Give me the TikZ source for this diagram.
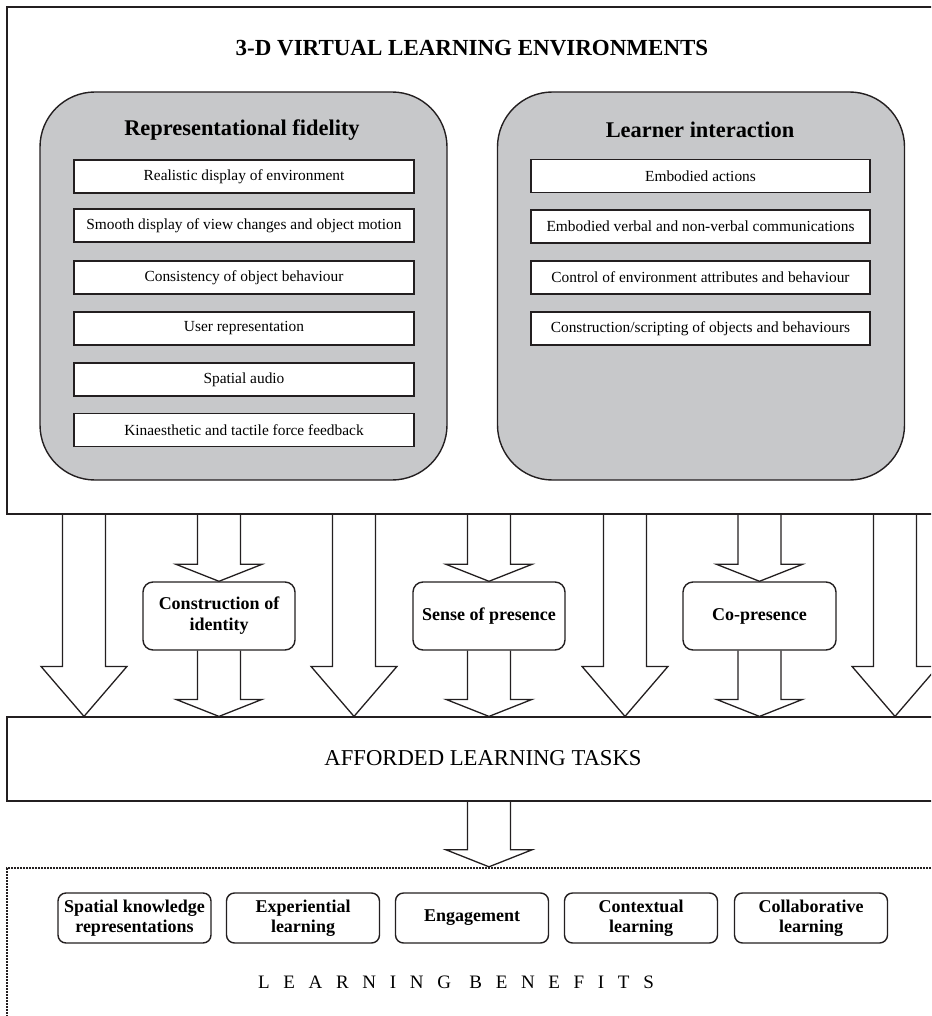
\documentclass[tikz,border=0pt]{standalone}
\usepackage{fontspec}
\setmainfont{Liberation Serif}
\newfontfamily\spacedfont[LetterSpace=72]{Liberation Serif}
\usetikzlibrary{fit,calc}

\definecolor{panelgray}{RGB}{199,200,202}
\definecolor{ink}{RGB}{35,31,32}

% block arrow: start, end, head length
\newcommand{\fatarrow}[3]{%
  \draw[arrowline] let \p1=(#1), \p2=(#2) in
    (\x1-21.5pt,\y1) -- (\x1-21.5pt,\y2+#3pt) -- (\x1-43pt,\y2+#3pt) -- (\x1,\y2)
    -- (\x1+43pt,\y2+#3pt) -- (\x1+21.5pt,\y2+#3pt) -- (\x1+21.5pt,\y1);}

\begin{document}
\begin{tikzpicture}[x=1pt,y=-1pt,
    outerbox/.style={draw=ink,line width=1.2pt,inner sep=0pt},
    panel/.style={draw=ink,fill=panelgray,line width=1.4pt,rounded corners=55pt,
      minimum width=407pt,minimum height=388pt},
    paneltitle/.style={font=\fontsize{22.4}{26}\selectfont\bfseries},
    item/.style={draw=ink,fill=white,line width=1.8pt,minimum width=340pt,minimum height=33pt,
      inner sep=0pt,font=\fontsize{15.4}{18}\selectfont},
    midbox/.style={draw=ink,fill=white,line width=1.4pt,rounded corners=10pt,minimum width=152pt,
      minimum height=68pt,inner sep=0pt,align=center,font=\fontsize{18}{21}\selectfont\bfseries},
    benefit/.style={draw=ink,fill=white,line width=1.4pt,rounded corners=8pt,minimum width=153pt,
      minimum height=50pt,inner sep=0pt,align=center,font=\fontsize{18}{20}\selectfont\bfseries},
    arrowline/.style={draw=ink,line width=1.3pt,line join=miter}]
  \useasboundingbox (0,0) rectangle (931,1016);
  \clip (0,0) rectangle (931,1016);

  % Environment box
  \node[outerbox,minimum width=933pt,minimum height=507pt] (env) at (473.5,260.5) {};
  \node[font=\fontsize{23}{27}\selectfont\bfseries] (envtitle) at (472,48) {3-D VIRTUAL LEARNING ENVIRONMENTS};

  % Panels
  \node[panel] (fidelity) at (243.5,286) {};
  \node[panel] (interaction) at (701,286) {};
  \node[paneltitle] (fidtitle) at (242,130) {Representational fidelity};
  \node[paneltitle] (inttitle) at (700,130) {Learner interaction};

  % Fidelity items
  \node[item] (f1) at (244,176.5) {Realistic display of environment};
  \node[item] (f2) at (244,225.5) {Smooth display of view changes and object motion};
  \node[item] (f3) at (244,277.5) {Consistency of object behaviour};
  \node[item] (f4) at (244,328.5) {User representation};
  \node[item] (f5) at (244,379.5) {Spatial audio};
  \node[item] (f6) at (244,430) {Kinaesthetic and tactile force feedback};

  % Interaction items
  \node[item,minimum width=339pt] (i1) at (700.5,176) {Embodied actions};
  \node[item,minimum width=339pt] (i2) at (700.5,226.5) {Embodied verbal and non-verbal communications};
  \node[item,minimum width=339pt] (i3) at (700.5,277.5) {Control of environment attributes and behaviour};
  \node[item,minimum width=339pt] (i4) at (700.5,328.5) {Construction/scripting of objects and behaviours};

  % Tasks box
  \node[outerbox,minimum width=933pt,minimum height=84pt] (tasks) at (473.5,759) {};
  \node[font=\fontsize{22.7}{26}\selectfont] (taskstext) at (483,758) {AFFORDED LEARNING TASKS};

  % Intermediate boxes
  \node[midbox] (identity) at (219,616) {Construction of\\identity};
  \node[midbox] (presence) at (489,616) {Sense of presence};
  \node[midbox,minimum width=153pt] (copresence) at (759.5,616) {Co-presence};

  % Columns
  \coordinate (c1) at (84,0);
  \coordinate (c3) at (354,0);
  \coordinate (c5) at (625,0);
  \coordinate (c7) at (895,0);

  % Arrows
  \fatarrow{env.south -| c1}{tasks.north -| c1}{50}
  \fatarrow{env.south -| c3}{tasks.north -| c3}{50}
  \fatarrow{env.south -| c5}{tasks.north -| c5}{50}
  \fatarrow{env.south -| c7}{tasks.north -| c7}{50}
  \fatarrow{env.south -| identity}{identity.north}{17}
  \fatarrow{identity.south}{tasks.north -| identity}{17}
  \fatarrow{env.south -| presence}{presence.north}{17}
  \fatarrow{presence.south}{tasks.north -| presence}{17}
  \fatarrow{env.south -| copresence}{copresence.north}{17}
  \fatarrow{copresence.south}{tasks.north -| copresence}{17}

  % Benefits box
  \node[draw=ink,line width=2.4pt,dash pattern=on 2pt off 1pt,minimum width=953pt,minimum height=170pt,inner sep=0pt]
    (benefits) at (483.5,953) {};
  \fatarrow{tasks.south -| presence}{benefits.north -| presence}{17}
  \node[benefit] (b1) at (134.5,918) {Spatial knowledge\\representations};
  \node[benefit] (b2) at (303,918) {Experiential\\learning};
  \node[benefit] (b3) at (472,918) {Engagement};
  \node[benefit] (b4) at (641,918) {Contextual\\learning};
  \node[benefit] (b5) at (811,918) {Collaborative\\learning};
  \node[font=\fontsize{19}{22}\spacedfont] (benefitstext) at (456,982) {LEARNING BENEFITS};
\end{tikzpicture}
\end{document}
